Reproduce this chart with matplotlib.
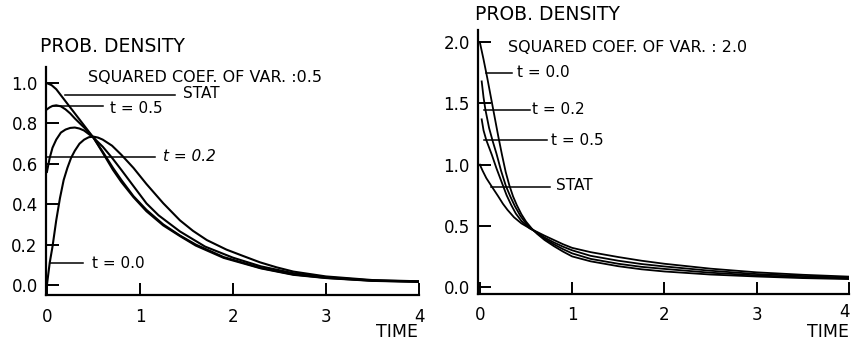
import matplotlib
matplotlib.use("Agg")
import matplotlib.pyplot as plt

# ---- left panel: squared coef. of var. 0.5 ----
l_t00_x = [0, 0.03, 0.06, 0.1, 0.14, 0.18, 0.22, 0.26, 0.3, 0.35, 0.4, 0.45, 0.5, 0.55, 0.6, 0.7, 0.8, 0.93, 1.07, 1.25, 1.43, 1.57, 1.72, 1.93, 2.1, 2.29, 2.47, 2.65, 3.0, 3.5, 4.0]
l_t00_y = [0, 0.11, 0.19, 0.32, 0.43, 0.52, 0.58, 0.63, 0.665, 0.70, 0.72, 0.732, 0.735, 0.73, 0.72, 0.69, 0.645, 0.58, 0.50, 0.405, 0.32, 0.268, 0.222, 0.175, 0.145, 0.112, 0.087, 0.066, 0.042, 0.024, 0.018]

l_t02_x = [0, 0.03, 0.06, 0.1, 0.15, 0.2, 0.25, 0.3, 0.35, 0.4, 0.5, 0.6, 0.7, 0.8, 0.93, 1.07, 1.2, 1.43, 1.7, 2.0, 2.3, 2.65, 3.0, 3.5, 4.0]
l_t02_y = [0.56, 0.63, 0.68, 0.72, 0.755, 0.77, 0.778, 0.78, 0.775, 0.765, 0.73, 0.685, 0.63, 0.57, 0.49, 0.404, 0.345, 0.265, 0.19, 0.135, 0.092, 0.058, 0.038, 0.022, 0.017]

l_t05_x = [0, 0.03, 0.06, 0.1, 0.15, 0.2, 0.25, 0.3, 0.4, 0.5, 0.6, 0.71, 0.8, 0.93, 1.07, 1.25, 1.43, 1.6, 1.9, 2.3, 2.65, 3.0, 3.5, 4.0]
l_t05_y = [0.87, 0.88, 0.887, 0.89, 0.885, 0.87, 0.85, 0.825, 0.78, 0.73, 0.66, 0.58, 0.52, 0.44, 0.372, 0.3, 0.245, 0.2, 0.138, 0.084, 0.052, 0.035, 0.021, 0.016]

l_stat_x = [0, 0.05, 0.1, 0.2, 0.3, 0.4, 0.5, 0.6, 0.71, 0.8, 0.93, 1.07, 1.25, 1.43, 1.6, 1.9, 2.3, 2.65, 3.0, 3.5, 4.0]
l_stat_y = [1.0, 0.99, 0.97, 0.91, 0.85, 0.79, 0.73, 0.655, 0.57, 0.51, 0.435, 0.365, 0.295, 0.242, 0.195, 0.134, 0.082, 0.05, 0.034, 0.02, 0.015]

# ---- right panel: squared coef. of var. 2.0 ----
r_t00_x = [0, 0.04, 0.08, 0.12, 0.16, 0.2, 0.24, 0.28, 0.32, 0.36, 0.4, 0.45, 0.5, 0.56, 0.62, 0.7, 0.8, 0.9, 1.0, 1.2, 1.5, 1.75, 2.0, 2.5, 3.0, 3.5, 4.0]
r_t00_y = [2.0, 1.86, 1.71, 1.55, 1.39, 1.23, 1.08, 0.94, 0.83, 0.74, 0.67, 0.595, 0.535, 0.48, 0.435, 0.385, 0.335, 0.29, 0.25, 0.21, 0.17, 0.145, 0.127, 0.102, 0.086, 0.073, 0.065]

r_t02_x = [0.02, 0.04, 0.06, 0.1, 0.14, 0.18, 0.23, 0.28, 0.33, 0.38, 0.44, 0.5, 0.55, 0.62, 0.7, 0.8, 0.9, 1.0, 1.2, 1.5, 1.75, 2.0, 2.5, 3.0, 3.5, 4.0]
r_t02_y = [1.68, 1.55, 1.45, 1.30, 1.19, 1.09, 0.95, 0.83, 0.74, 0.66, 0.58, 0.52, 0.48, 0.44, 0.395, 0.35, 0.31, 0.275, 0.23, 0.19, 0.165, 0.148, 0.117, 0.095, 0.08, 0.07]

r_t05_x = [0.02, 0.04, 0.07, 0.1, 0.13, 0.18, 0.24, 0.29, 0.34, 0.39, 0.45, 0.54, 0.62, 0.7, 0.8, 0.9, 1.0, 1.2, 1.5, 1.75, 2.0, 2.5, 3.0, 3.5, 4.0]
r_t05_y = [1.37, 1.28, 1.20, 1.14, 1.08, 0.97, 0.85, 0.75, 0.67, 0.60, 0.54, 0.48, 0.445, 0.405, 0.365, 0.33, 0.30, 0.255, 0.215, 0.188, 0.168, 0.133, 0.106, 0.09, 0.076]

r_stat_x = [0, 0.03, 0.07, 0.13, 0.2, 0.25, 0.3, 0.37, 0.45, 0.54, 0.62, 0.7, 0.8, 0.9, 1.0, 1.2, 1.5, 1.75, 2.0, 2.5, 3.0, 3.5, 4.0]
r_stat_y = [1.0, 0.95, 0.89, 0.82, 0.74, 0.68, 0.63, 0.57, 0.52, 0.48, 0.45, 0.42, 0.385, 0.35, 0.32, 0.285, 0.245, 0.215, 0.19, 0.15, 0.12, 0.1, 0.085]

x_ticks = [0, 1, 2, 3, 4]
l_yticks = [0.0, 0.2, 0.4, 0.6, 0.8, 1.0]
r_yticks = [0.0, 0.5, 1.0, 1.5, 2.0]

W, H = 851, 342
fig = plt.figure(figsize=(W / 100, H / 100), dpi=100)


def px(x0, y0, x1, y1):
    # pixel box -> figure fraction [left, bottom, width, height]
    return [x0 / W, 1 - y1 / H, (x1 - x0) / W, (y1 - y0) / H]


def style(ax, yt):
    for s in ["top", "right"]:
        ax.spines[s].set_visible(False)
    for s in ["left", "bottom"]:
        ax.spines[s].set_linewidth(1.6)
    ax.set_xticks(x_ticks)
    ax.set_xticklabels([str(v) for v in x_ticks])
    ax.set_yticks(yt)
    ax.set_yticklabels(["%.1f" % v for v in yt])
    ax.tick_params(direction="in", length=9, width=1.4, labelsize=12, pad=6)
    ax.tick_params(axis="x", pad=9)


# left
ax1 = fig.add_axes(px(46, 67, 419, 295))
ax1.set_xlim(-0.01, 4.0)
ax1.set_ylim(-0.05, 1.08)
for xs, ys in [(l_t00_x, l_t00_y), (l_t02_x, l_t02_y), (l_t05_x, l_t05_y), (l_stat_x, l_stat_y)]:
    ax1.plot(xs, ys, color="black", lw=1.5, solid_joinstyle="round")
style(ax1, l_yticks)

ax1.plot([0.19, 1.38], [0.94, 0.94], color="black", lw=1.1)
ax1.text(1.46, 0.95, "STAT", fontsize=11, va="center")
ax1.plot([0.07, 0.6], [0.886, 0.886], color="black", lw=1.1)
ax1.text(0.68, 0.876, "t = 0.5", fontsize=11, va="center")
ax1.plot([0.0, 1.16], [0.635, 0.635], color="black", lw=1.1)
ax1.text(1.25, 0.635, "t = 0.2", fontsize=11, va="center", style="italic")
ax1.plot([0.03, 0.39], [0.107, 0.107], color="black", lw=1.1)
ax1.text(0.48, 0.107, "t = 0.0", fontsize=11, va="center")
ax1.text(0.44, 1.03, "SQUARED COEF. OF VAR. :0.5", fontsize=11.5, va="center")
fig.text(40 / W, 1 - 47 / H, "PROB. DENSITY", fontsize=13.5, va="center")
fig.text(418 / W, 1 - 332 / H, "TIME", fontsize=12.5, va="center", ha="right")

# right
ax2 = fig.add_axes(px(478, 30, 849, 294))
ax2.set_xlim(-0.02, 4.0)
ax2.set_ylim(-0.057, 2.1)
for xs, ys in [(r_t00_x, r_t00_y), (r_t02_x, r_t02_y), (r_t05_x, r_t05_y), (r_stat_x, r_stat_y)]:
    ax2.plot(xs, ys, color="black", lw=1.3, solid_joinstyle="round")
style(ax2, r_yticks)
ax2.set_xticks([0, 1, 2, 3])
ax2.set_xticklabels(["0", "1", "2", "3"])
ax2.tick_params(direction="in", length=9, width=1.4)
ax2.plot([4.0, 4.0], [-0.057, 0.03], color="black", lw=1.4, clip_on=False)
fig.text(850 / W, 1 - 312 / H, "4", fontsize=12, va="center", ha="right")

ax2.plot([0.07, 0.35], [1.75, 1.75], color="black", lw=1.1)
ax2.text(0.40, 1.75, "t = 0.0", fontsize=11, va="center")
ax2.plot([0.05, 0.54], [1.45, 1.45], color="black", lw=1.1)
ax2.text(0.56, 1.45, "t = 0.2", fontsize=11, va="center")
ax2.plot([0.05, 0.73], [1.20, 1.20], color="black", lw=1.1)
ax2.text(0.77, 1.20, "t = 0.5", fontsize=11, va="center")
ax2.plot([0.12, 0.76], [0.82, 0.82], color="black", lw=1.1)
ax2.text(0.83, 0.83, "STAT", fontsize=11, va="center")
ax2.text(0.3, 1.96, "SQUARED COEF. OF VAR. : 2.0", fontsize=11.5, va="center")
fig.text(475 / W, 1 - 14 / H, "PROB. DENSITY", fontsize=13.5, va="center")
fig.text(849 / W, 1 - 332 / H, "TIME", fontsize=12.5, va="center", ha="right")

plt.savefig("out.png", dpi=100)
